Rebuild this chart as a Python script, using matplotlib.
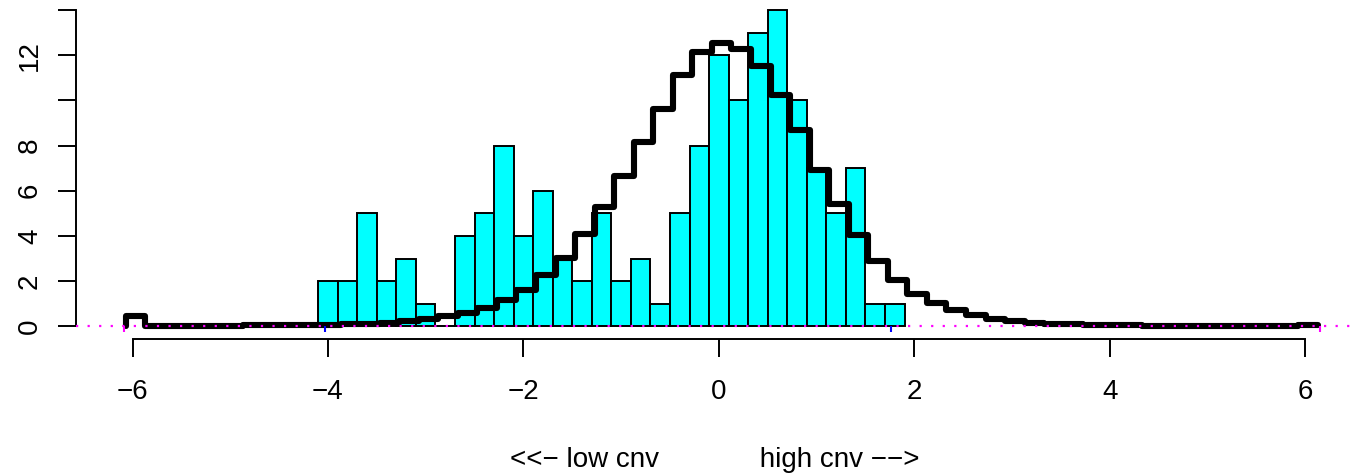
import numpy as np
import matplotlib
matplotlib.use('Agg')
from matplotlib import pyplot as plt
from matplotlib.markers import TICKDOWN

plt.rcParams['font.family'] = 'Liberation Sans'

# histogram of segment scores (bin edges every 0.2)
bin_start = -4.1
bin_width = 0.2
counts = [2, 2, 5, 2, 3, 1, 0, 4, 5, 8, 4, 6, 3, 2, 5, 2, 3, 1, 5, 8,
          12, 10, 13, 14, 10, 7, 5, 7, 1, 1]

# expected density curve, drawn as steps
curve_start = -6.071
curve_step = 0.2
curve_vals = [0.45, 0.03, 0.03, 0.03, 0.03, 0.03, 0.04, 0.04, 0.05, 0.06,
              0.08, 0.10, 0.12, 0.16, 0.22, 0.34, 0.47, 0.59, 0.83, 1.15,
              1.62, 2.26, 3.02, 4.10, 5.28, 6.64, 8.15, 9.63, 11.12, 12.14,
              12.52, 12.26, 11.52, 10.22, 8.70, 6.93, 5.40, 4.03, 2.88, 2.07,
              1.45, 1.05, 0.73, 0.50, 0.34, 0.23, 0.17, 0.12, 0.09, 0.07,
              0.05, 0.04, 0.03, 0.03, 0.03, 0.03, 0.03, 0.03, 0.03, 0.03,
              0.08]

sample_range = [-4.03, 1.76]
curve_range = [-6.09, 6.15]

x_ticks = [-6, -4, -2, 0, 2, 4, 6]
y_ticks = [0, 2, 4, 6, 8, 10, 12, 14]
y_labels = ['0', '2', '4', '6', '8', '', '12', '']
xlab = '<<\u2212 low cnv' + ' ' * 13 + 'high cnv \u2212\u2212>'

edges = bin_start + bin_width * np.arange(len(counts))
c_edges = curve_start + curve_step * np.arange(len(curve_vals) + 1)

fig = plt.figure(figsize=(13.53, 4.74), dpi=100)
ax = fig.add_axes([76 / 1353, 135 / 474, 1277 / 1353, 341.6 / 474])

ax.bar(edges, counts, width=bin_width, align='edge', color='#00FFFF',
       edgecolor='black', linewidth=1.4, zorder=2)

ax.step(np.r_[c_edges[0], c_edges], np.r_[0, curve_vals, curve_vals[-1]],
        where='post', color='black', linewidth=4.4,
        solid_joinstyle='round', solid_capstyle='round', zorder=3)

ax.axhline(0, color='#FF00FF', linewidth=1.6, linestyle=(0, (1, 4.2)), zorder=4)
ax.plot(sample_range, [0, 0], ls='none', marker=TICKDOWN, ms=4.5, mew=1.5,
        color='#0000FF', zorder=5)
ax.plot(curve_range, [0, 0], ls='none', marker=TICKDOWN, ms=4.5, mew=1.5,
        color='#FF00FF', zorder=5)

ax.set_xlim(-6.579, 6.49)
ax.set_ylim(-0.56, 14.56)

for s in ['top', 'right']:
    ax.spines[s].set_visible(False)
ax.spines['left'].set_bounds(0, 14)
ax.spines['bottom'].set_bounds(-6, 6)
ax.spines['left'].set_linewidth(1.4)
ax.spines['bottom'].set_linewidth(1.4)

ax.set_xticks(x_ticks)
ax.set_xticklabels([str(v).replace('-', '\u2212') for v in x_ticks])
ax.set_yticks(y_ticks)
ax.set_yticklabels(y_labels)
ax.tick_params(direction='out', length=12.7, width=1.4, labelsize=20)
ax.tick_params(axis='x', pad=16)
ax.tick_params(axis='y', pad=11)
plt.setp(ax.get_yticklabels(), rotation=90, va='center')

ax.set_xlabel(xlab, fontsize=20, labelpad=30)

fig.savefig('out.png', dpi=100)
